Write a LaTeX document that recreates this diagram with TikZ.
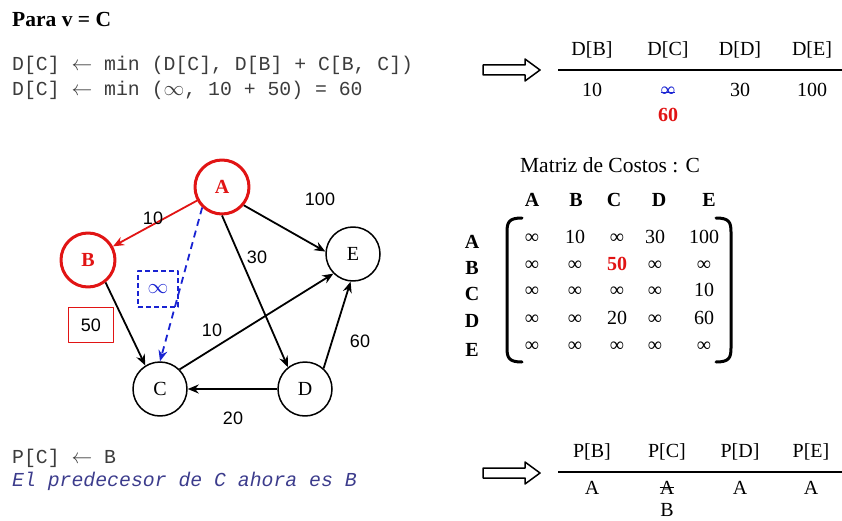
\documentclass[tikz,border=0pt]{standalone}
\usepackage{fontspec}
\setmainfont{Liberation Serif}
\setsansfont{Liberation Sans}
\setmonofont{Liberation Mono}
\usetikzlibrary{arrows.meta}

\definecolor{hotred}{RGB}{225,20,20}
\definecolor{infblue}{RGB}{25,35,210}
\definecolor{codegray}{RGB}{60,60,60}
\definecolor{noteblue}{RGB}{60,60,140}
\newcommand{\larr}{{\normalfont$\leftarrow$}}
\newcommand{\inff}{{\normalfont$\infty$}}

\begin{document}
\begin{tikzpicture}[x=1pt, y=-1pt, font=\fontsize{20}{24}\selectfont, line join=round, >={Stealth[length=11pt,width=9pt]},
  vertex/.style={circle, draw, line width=1.5pt, minimum size=54pt, inner sep=0pt},
  hot/.style={vertex, draw=hotred, line width=3pt, text=hotred, font=\fontsize{20}{24}\selectfont\bfseries},
  edge/.style={->, line width=1.8pt},
  cost/.style={font=\sffamily\fontsize{18}{20}\selectfont, inner sep=1pt},
  code/.style={anchor=west, inner sep=0pt, text=codegray, font=\ttfamily\fontsize{19.8}{25}\selectfont},
  cell/.style={anchor=base, inner sep=0pt},
  hdr/.style={cell, font=\fontsize{20}{24}\selectfont\bfseries},
  bigarrow/.style={draw, line width=1.5pt, fill=white}]
\useasboundingbox (0,0) rectangle (842,521);

% update of D[C]
\node[anchor=base west, inner sep=0pt, font=\fontsize{21.5}{24}\selectfont\bfseries] (title) at (12,27) {Para v = C};
\node[code] (rule1) at (12,65) {D[C] \larr{} min (D[C], D[B] + C[B, C])};
\node[code] (rule2) at (12,90) {D[C] \larr{} min (\inff, 10 + 50) = 60};

% the two hollow arrows
\foreach \y in {70,473}
\draw[bigarrow] (483,\y-5) -- (525,\y-5) -- (525,\y-11) -- (540,\y) -- (525,\y+11) -- (525,\y+5) -- (483,\y+5) -- cycle;

% table D
\draw[line width=1.6pt] (558,70) -- (842,70);
\foreach \x/\k/\v in {592/B/10, 668/C/{\textcolor{infblue}{\textbf{∞}}}, 740/D/30, 812/E/100} {
  \node[cell] (dh\k) at (\x,56) {D[\k]};
  \node[cell] (dv\k) at (\x,97) {\v};
}
\draw[infblue, line width=1.2pt] (dvC.west) -- (dvC.east);
\node[cell, text=hotred, font=\fontsize{20}{24}\selectfont\bfseries] (dnew) at (668,122) {60};

% graph
\node[hot] (A) at (222,187) {A};
\node[hot] (B) at (88,260) {B};
\node[vertex] (C) at (160,389) {C};
\node[vertex] (D) at (305,389) {D};
\node[vertex] (E) at (353,254) {E};

\draw[edge, hotred] (A) -- (B);
\draw[edge, infblue, dash pattern=on 7pt off 5pt] (A.226) -- (C.north);
\draw[edge] (A.-40) -- (E.175);
\draw[edge] (A.-90) -- (D.128);
\draw[edge] (B.-52) -- (C.122);
\draw[edge] (C.45) -- (E.225);
\draw[edge] (D) -- (C);
\draw[edge] (D.48) -- (E.265);

\node[cost] (wAB) at (153,218) {10};
\node[cost] (wAE) at (320,199) {100};
\node[cost] (wAD) at (257,257) {30};
\node[cost] (wCE) at (212,330) {10};
\node[cost] (wDE) at (360,341) {60};
\node[cost] (wDC) at (233,418) {20};
\node[draw=infblue, dash pattern=on 5pt off 3pt, line width=2pt, minimum width=40pt, minimum height=36pt, text=infblue] (inf) at (158,289) {\inff};
\node[cost, draw=hotred, line width=1.6pt, minimum width=45pt, minimum height=35pt] (fifty) at (91,325) {50};

% cost matrix
\node[font=\fontsize{21.5}{24}\selectfont] (mtitle) at (610,165) {Matriz de Costos : C};
\foreach \x/\k in {532/A, 576/B, 614/C, 659/D, 709/E}
\node[hdr] (col\k) at (\x,207) {\k};
\foreach \y/\k in {248/A, 274/B, 300/C, 327/D, 356/E}
\node[hdr] (row\k) at (472,\y) {\k};
\foreach \y/\va/\vb/\vc/\vd/\ve [count=\i] in {243/∞/10/∞/30/100, 270/∞/∞/{\textcolor{hotred}{\textbf{50}}}/∞/∞, 296/∞/∞/∞/∞/10, 324/∞/∞/20/∞/60, 351/∞/∞/∞/∞/∞}
\foreach \v/\x [count=\j] in {\va/532, \vb/575, \vc/617, \vd/655, \ve/704}
\node[cell] (m\i\j) at (\x,\y) {\v};
\draw[line width=3pt, line cap=round] (522,218) .. controls (509,218) and (507,222) .. (507,232) -- (507,348) .. controls (507,358) and (509,362) .. (522,362);
\draw[line width=3pt, line cap=round] (716,218) .. controls (729,218) and (731,222) .. (731,232) -- (731,348) .. controls (731,358) and (729,362) .. (716,362);

% update of P[C]
\node[code] (rule3) at (12,458) {P[C] \larr{} B};
\node[code, text=noteblue, font=\ttfamily\itshape\fontsize{19.8}{25}\selectfont] (note) at (12,481) {El predecesor de C ahora es B};

% table P
\draw[line width=1.6pt] (558,472) -- (842,472);
\foreach \x/\k in {592/B, 667/C, 740/D, 811/E} {
  \node[cell] (ph\k) at (\x,457) {P[\k]};
  \node[cell] (pv\k) at (\x,494) {A};
}
\draw[line width=1.2pt] (pvC.west) -- (pvC.east);
\node[cell] (pnew) at (667,516) {B};
\end{tikzpicture}
\end{document}
